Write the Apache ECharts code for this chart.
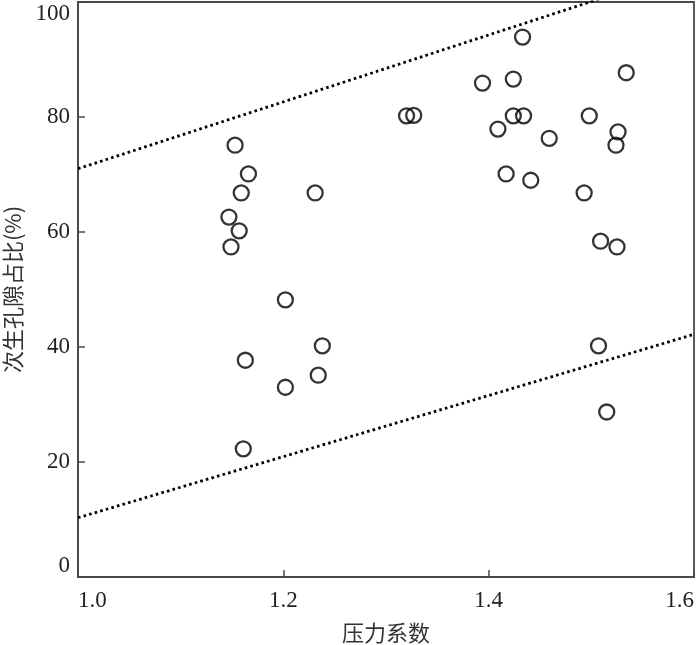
<!DOCTYPE html>
<html>
<head>
<meta charset="utf-8">
<script src="https://cdn.jsdelivr.net/npm/echarts@6/dist/echarts.min.js"></script>
<style>
    html, body { margin: 0; padding: 0; background: #fff; }
    #chart { width: 700px; height: 645px; }
</style>
</head>
<body>
<div id="chart"></div>
<script>
// 压力系数 vs 次生孔隙占比(%)
const pressure = [1.153, 1.166, 1.159, 1.147, 1.157, 1.149, 1.202, 1.163, 1.238, 1.234, 1.202, 1.161,
    1.231, 1.320, 1.327, 1.394, 1.433, 1.424, 1.409, 1.424, 1.434, 1.417, 1.441, 1.459, 1.498,
    1.534, 1.526, 1.524, 1.493, 1.509, 1.525, 1.507, 1.515];
const ratio = [75.1, 70.1, 66.8, 62.6, 60.2, 57.4, 48.2, 37.7, 40.2, 35.1, 33.0, 22.3,
    66.8, 80.2, 80.3, 85.9, 93.9, 86.6, 77.9, 80.2, 80.2, 70.1, 69.0, 76.3, 80.2,
    87.7, 77.4, 75.1, 66.8, 58.4, 57.4, 40.2, 28.7];

// 上下包络线 (虚线)
const upperLine = [[1.0, 71.0], [1.6, 105.9]];
const lowerLine = [[1.0, 10.3], [1.6, 42.2]];

const xTicks = { min: 1.0, max: 1.6, step: 0.2 };
const yTicks = { min: 0, max: 100, step: 20 };

const points = pressure.map((x, i) => [x, ratio[i]]);

const chart = echarts.init(document.getElementById('chart'));

const axisColor = '#4a4a4a';
const labelFont = {
    fontFamily: 'Liberation Serif',
    fontSize: 23,
    color: '#222'
};

const option = {
    animation: false,
    grid: {
        left: 78,
        right: 6,
        top: 2,
        bottom: 68,
        outerBoundsMode: 'none',
        show: true,
        borderColor: axisColor,
        borderWidth: 1.8
    },
    xAxis: {
        type: 'value',
        min: xTicks.min,
        max: xTicks.max,
        interval: xTicks.step,
        name: '压力系数',
        nameLocation: 'middle',
        nameGap: 45,
        nameTextStyle: {
            fontFamily: 'Noto Sans CJK SC',
            fontSize: 22,
            color: '#333'
        },
        axisLine: { lineStyle: { color: axisColor, width: 1.8 } },
        axisTick: { inside: true, length: 7, lineStyle: { color: axisColor, width: 1.5 } },
        splitLine: { show: false },
        axisLabel: Object.assign({
            margin: 12,
            alignMinLabel: 'left',
            alignMaxLabel: 'right',
            formatter: v => v.toFixed(1)
        }, labelFont)
    },
    yAxis: {
        type: 'value',
        min: yTicks.min,
        max: yTicks.max,
        interval: yTicks.step,
        name: '次生孔隙占比(%)',
        nameLocation: 'middle',
        nameGap: 54,
        nameTextStyle: {
            fontFamily: 'Noto Sans CJK SC',
            fontSize: 22,
            color: '#333'
        },
        axisLine: { lineStyle: { color: axisColor, width: 1.8 } },
        axisTick: { inside: true, length: 7, lineStyle: { color: axisColor, width: 1.5 } },
        splitLine: { show: false },
        axisLabel: Object.assign({
            margin: 8,
            verticalAlignMinLabel: 'bottom',
            verticalAlignMaxLabel: 'top'
        }, labelFont)
    },
    series: [
        {
            type: 'line',
            data: upperLine,
            symbol: 'none',
            clip: true,
            lineStyle: { color: '#000', width: 2.8, type: [2.6, 3.2] }
        },
        {
            type: 'line',
            data: lowerLine,
            symbol: 'none',
            clip: true,
            lineStyle: { color: '#000', width: 2.8, type: [2.6, 3.2] }
        },
        {
            type: 'scatter',
            data: points,
            symbol: 'circle',
            symbolSize: 15,
            itemStyle: {
                color: 'rgba(0,0,0,0)',
                borderColor: '#000',
                borderWidth: 2.3
            }
        }
    ]
};

chart.setOption(option);
</script>
</body>
</html>
